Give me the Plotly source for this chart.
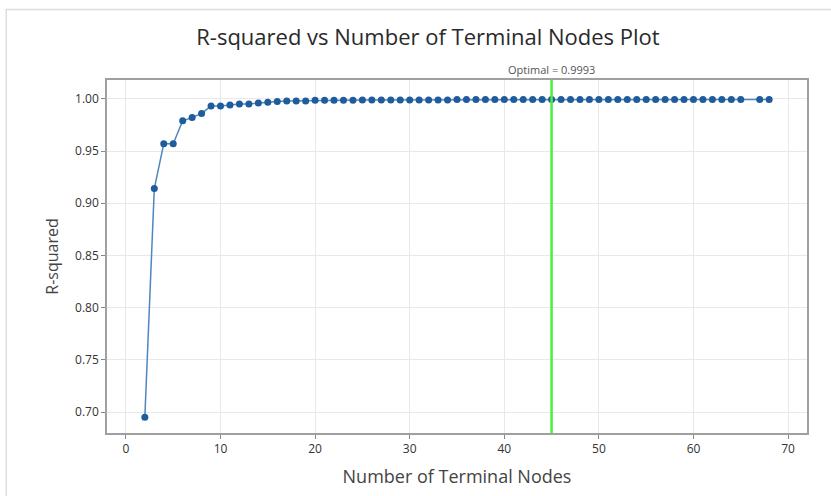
import plotly.graph_objects as go

# Number of terminal nodes evaluated (66 was not part of the sequence)
nodes = list(range(2, 66)) + [67, 68]

# R-squared for each tree size
r_squared = [
    0.695, 0.914, 0.957, 0.957, 0.979, 0.982, 0.986, 0.993, 0.993, 0.994,
    0.995, 0.995, 0.996, 0.9968, 0.9975, 0.9978, 0.998, 0.998, 0.9985, 0.9986,
    0.9987, 0.9987, 0.9987, 0.9988, 0.9988, 0.9988, 0.9988, 0.9989, 0.9989, 0.9989,
    0.9989, 0.9989, 0.9989, 0.9993, 0.9993, 0.9993, 0.9993, 0.9993, 0.9993, 0.9993,
    0.9993, 0.9993, 0.9993, 0.9993, 0.9993, 0.9993, 0.9993, 0.9993, 0.9993, 0.9993,
    0.9993, 0.9993, 0.9993, 0.9993, 0.9993, 0.9993, 0.9993, 0.9993, 0.9993, 0.9993,
    0.9993, 0.9993, 0.9993, 0.9993, 0.9993, 0.9993,
]

optimal_nodes = 45
optimal_r2 = 0.9993

x_ticks = [0, 10, 20, 30, 40, 50, 60, 70]
y_ticks = [0.70, 0.75, 0.80, 0.85, 0.90, 0.95, 1.00]

font_family = "Open Sans, Noto Sans, sans-serif"

fig = go.Figure()

fig.add_trace(go.Scatter(
    x=nodes,
    y=r_squared,
    mode="lines+markers",
    line=dict(color="#4f86c0", width=1.5),
    marker=dict(color="#1f5c9c", size=7),
    showlegend=False,
))

# Vertical marker at the optimal tree size
fig.add_vline(x=optimal_nodes, line=dict(color="#4cf03c", width=2.5), layer="above")

fig.add_annotation(
    x=optimal_nodes, y=1, xref="x", yref="paper",
    text=f"Optimal = {optimal_r2:.4f}",
    showarrow=False, yanchor="bottom", yshift=1,
    font=dict(family=font_family, size=11, color="#555555"),
)

# Light frame around the whole figure
fig.add_shape(
    type="rect", xref="paper", yref="paper",
    x0=-0.144, x1=1.1, y0=-0.25, y1=1.2,
    line=dict(color="#dddddd", width=1.5), fillcolor="rgba(0,0,0,0)",
    layer="below",
)

fig.update_layout(
    width=831, height=496,
    margin=dict(l=107, r=24, t=80, b=63),
    paper_bgcolor="white",
    plot_bgcolor="white",
    title=dict(
        text="R-squared vs Number of Terminal Nodes Plot",
        x=0.515, xanchor="center", y=0.925, yanchor="middle",
        font=dict(family=font_family, size=22, color="#2a2a2a"),
    ),
    font=dict(family=font_family, color="#333333"),
)

fig.update_xaxes(
    range=[-2, 72],
    tickvals=x_ticks,
    ticks="outside", ticklen=4, tickcolor="#888888",
    tickfont=dict(size=12, color="#333333"),
    showgrid=True, gridcolor="#e8e8e8", gridwidth=1,
    showline=True, linecolor="#a0a0a0", linewidth=1.5, mirror=True,
    zeroline=False,
    title=dict(text="Number of Terminal Nodes", font=dict(size=18, color="#444444"), standoff=14),
)

fig.update_yaxes(
    range=[0.680, 1.018],
    tickvals=y_ticks,
    tickformat=".2f",
    ticks="outside", ticklen=4, tickcolor="#888888",
    tickfont=dict(size=12, color="#333333"),
    showgrid=True, gridcolor="#e8e8e8", gridwidth=1,
    showline=True, linecolor="#a0a0a0", linewidth=1.5, mirror=True,
    zeroline=False,
    title=dict(text="R-squared", font=dict(size=16, color="#444444"), standoff=12),
)

fig.write_html("out.html")
